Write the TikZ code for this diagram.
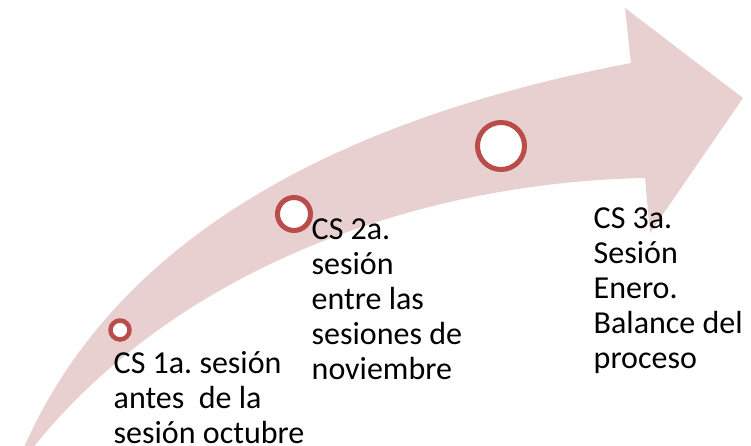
\documentclass[tikz,border=0pt]{standalone}
\usepackage{fontspec}
\setmainfont{Carlito}
\frenchspacing
\definecolor{arrowpink}{RGB}{232,208,209}
\definecolor{ringred}{RGB}{184,77,74}
\tikzset{
  ring/.style={circle, draw=ringred, fill=white, inner sep=0pt},
  label/.style={anchor=base west, inner sep=0pt, font=\fontsize{32}{35.2}\selectfont}
}
\begin{document}
\begin{tikzpicture}[x=1pt,y=-1pt]
\useasboundingbox (0,0) rectangle (751,446);
\clip (0,0) rectangle (751,446);
% curved arrow
\fill[arrowpink]
  (22,452) .. controls (125.5,209.7) and (392,108.5) .. (631,63)
  -- (625,8) -- (743,98) -- (650,233) -- (645,178)
  .. controls (416.7,182.4) and (171.7,269.8) .. (28,454)
  -- cycle;
% circles
\node[ring, line width=4.5pt, minimum size=19pt] (c1) at (120,330) {};
\node[ring, line width=5pt, minimum size=33pt] (c2) at (294,214) {};
\node[ring, line width=5pt, minimum size=47pt] (c3) at (501,146) {};
% labels
\node[label] (t1) at (113.5,373) {\begin{tabular}[t]{@{}l@{}}CS 1a. sesión\\antes~ de la\\sesión octubre\end{tabular}};
\node[label] (t2) at (311.5,239) {\begin{tabular}[t]{@{}l@{}}CS 2a.\\sesión\\entre las\\sesiones de\\noviembre\end{tabular}};
\node[label] (t3) at (593.5,228) {\begin{tabular}[t]{@{}l@{}}CS 3a.\\Sesión\\Enero.\\Balance del\\proceso\end{tabular}};
\end{tikzpicture}
\end{document}
